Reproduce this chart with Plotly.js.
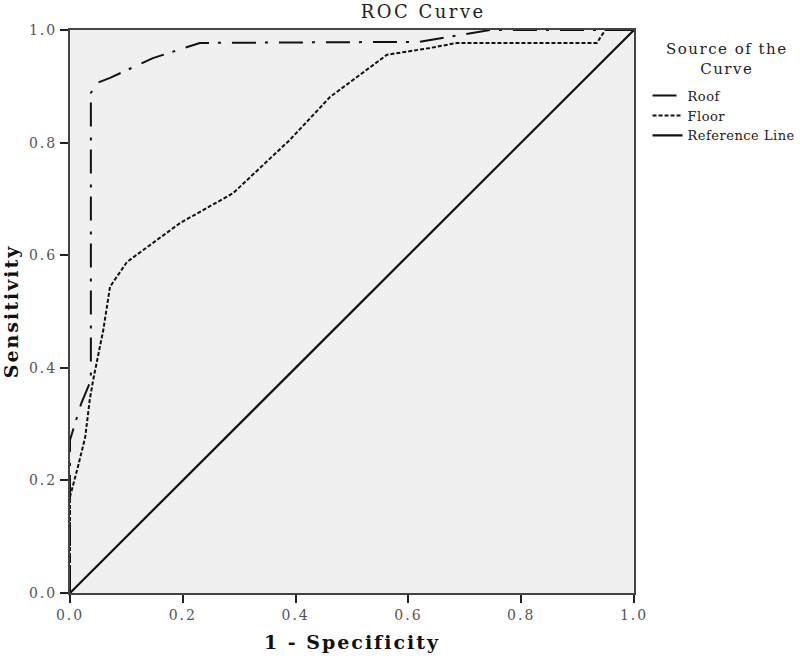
<!DOCTYPE html>
<html>
<head>
<meta charset="utf-8">
<script src="https://cdn.plot.ly/plotly-3.0.1.min.js"></script>
<style>
  body { margin: 0; background: #fff; }
  /* SPSS style spaced lettering */
  .xtick text, .ytick text { letter-spacing: 2px; }
  .gtitle { letter-spacing: 2.5px; }
  .xtitle, .ytitle { letter-spacing: 2px; }
  .legendtext { letter-spacing: 0.5px; }
  .annotation-text { letter-spacing: 1.5px; }
</style>
</head>
<body>
<div id="graph" style="width:800px;height:658px;"></div>
<script>
// Roof curve (1 - specificity, sensitivity)
const roofFpr = [0, 0, 0.020, 0.037, 0.037, 0.048, 0.071, 0.147, 0.230, 0.620, 0.745, 1.0];
const roofTpr = [0, 0.272, 0.337, 0.378, 0.888, 0.906, 0.915, 0.950, 0.977, 0.979, 1.0, 1.0];

// Floor curve
const floorFpr = [0, 0, 0.014, 0.027, 0.035, 0.041, 0.059, 0.071, 0.101, 0.195, 0.289, 0.332, 0.390, 0.461, 0.562, 0.638, 0.686, 0.934, 0.949, 1.0];
const floorTpr = [0, 0.171, 0.224, 0.277, 0.343, 0.378, 0.467, 0.544, 0.588, 0.657, 0.710, 0.751, 0.805, 0.881, 0.956, 0.968, 0.977, 0.977, 1.0, 1.0];

// Reference line
const refX = [0, 1];
const refY = [0, 1];

const tickVals = [0, 0.2, 0.4, 0.6, 0.8, 1.0];

const serif = 'DejaVu Serif, serif';

const graph = document.getElementById('graph');

const traces = [
    {
        type: 'scatter', mode: 'lines',
        x: roofFpr, y: roofTpr,
        name: 'Roof',
        line: {color: '#111', width: 2, dash: '24px,9px,3px,11px'}
    },
    {
        type: 'scatter', mode: 'lines',
        x: floorFpr, y: floorTpr,
        name: 'Floor',
        line: {color: '#111', width: 2, dash: '4px,2px'}
    },
    {
        type: 'scatter', mode: 'lines',
        x: refX, y: refY,
        name: 'Reference Line',
        line: {color: '#111', width: 2.2}
    }
];

const axisBase = {
    range: [0, 1],
    tickvals: tickVals,
    tickformat: '.1f',
    ticks: 'outside',
    ticklen: 8,
    tickwidth: 2,
    tickcolor: '#222',
    showline: true,
    mirror: true,
    linecolor: '#444',
    linewidth: 2,
    showgrid: false,
    zeroline: false,
    tickfont: {family: serif, size: 14, color: '#555'}
};

const layout = {
    width: 800,
    height: 658,
    margin: {l: 70, r: 166, t: 30, b: 65, autoexpand: false},
    paper_bgcolor: '#fff',
    plot_bgcolor: '#f0f0f0',
    showlegend: true,
    title: {
        text: 'ROC Curve',
        font: {family: serif, size: 18, color: '#222'},
        x: 0.529, xanchor: 'center',
        y: 0.982, yanchor: 'middle'
    },
    xaxis: Object.assign({}, axisBase, {
        title: {text: '<b>1 - Specificity</b>', font: {family: serif, size: 19, color: '#111'}, standoff: 14}
    }),
    yaxis: Object.assign({}, axisBase, {
        title: {text: '<b>Sensitivity</b>', font: {family: serif, size: 19, color: '#111'}, standoff: 12}
    }),
    legend: {
        x: 1.024, xanchor: 'left',
        y: 0.91, yanchor: 'top',
        bgcolor: 'rgba(0,0,0,0)',
        font: {family: serif, size: 13, color: '#222'},
        itemwidth: 30,
        tracegroupgap: 0
    },
    annotations: [
        {
            xref: 'paper', yref: 'paper',
            x: 1.165, y: 0.985, xanchor: 'center', yanchor: 'top',
            text: 'Source of the<br>Curve',
            showarrow: false,
            align: 'center',
            font: {family: serif, size: 15, color: '#222'}
        }
    ]
};

const config = {staticPlot: true};

Plotly.newPlot(graph, traces, layout, config);
</script>
</body>
</html>
